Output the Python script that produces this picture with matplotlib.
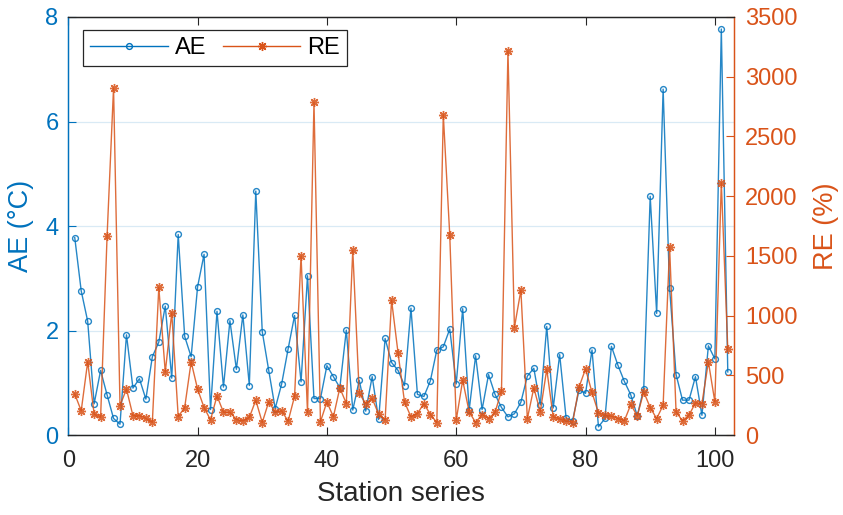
import matplotlib
matplotlib.use("Agg")
import matplotlib.pyplot as plt
import numpy as np

plt.rcParams['font.family'] = ['Liberation Sans', 'DejaVu Sans']

stations = list(range(1, 103))
AE = [3.78, 2.76, 2.18, 0.60, 1.24, 0.77, 0.32, 0.21, 1.92, 0.90,
      1.08, 0.69, 1.50, 1.78, 2.47, 1.09, 3.84, 1.89, 1.50, 2.84,
      3.46, 0.49, 2.37, 0.92, 2.19, 1.26, 2.30, 0.95, 4.67, 1.98,
      1.24, 0.51, 0.98, 1.65, 2.29, 1.02, 3.05, 0.70, 0.70, 1.33,
      1.12, 0.91, 2.01, 0.48, 1.05, 0.46, 1.12, 0.30, 1.85, 1.39,
      1.24, 0.95, 2.43, 0.78, 0.74, 1.04, 1.63, 1.69, 2.03, 0.98,
      2.42, 0.48, 1.52, 0.49, 1.16, 0.78, 0.53, 0.35, 0.41, 0.63,
      1.13, 1.28, 0.58, 2.08, 0.52, 1.54, 0.32, 0.28, 0.87, 0.80,
      1.63, 0.16, 0.32, 1.70, 1.34, 1.03, 0.77, 0.37, 0.89, 4.57,
      2.33, 6.62, 2.81, 1.16, 0.67, 0.67, 1.12, 0.38, 1.71, 1.46,
      7.77, 1.21]
RE = [345, 204, 614, 175, 150, 1665, 2906, 248, 386, 163,
      163, 141, 107, 1238, 527, 1024, 156, 231, 614, 385,
      231, 128, 329, 192, 192, 131, 120, 148, 293, 106,
      279, 195, 204, 117, 326, 1500, 190, 2786, 112, 279,
      153, 396, 265, 1548, 349, 265, 307, 176, 126, 1130,
      689, 279, 153, 181, 265, 173, 106, 2682, 1673, 126,
      460, 195, 106, 173, 139, 190, 371, 3216, 901, 1213,
      139, 396, 195, 552, 153, 134, 120, 106, 404, 554,
      358, 185, 166, 159, 139, 120, 257, 160, 363, 231,
      139, 251, 1576, 195, 120, 167, 271, 265, 614, 279,
      2114, 720]
xticks = [0, 20, 40, 60, 80, 100]
ae_ticks = [0, 2, 4, 6, 8]
re_ticks = [0, 500, 1000, 1500, 2000, 2500, 3000, 3500]

BLUE = '#0072BD'
ORANGE = '#D95319'
DARK = '#262626'

fig = plt.figure(figsize=(8.43, 5.15), dpi=100)
ax1 = fig.add_axes([0.081, 0.155, 0.790, 0.812])
ax2 = ax1.twinx()

l1, = ax1.plot(stations, AE, color=BLUE, lw=1.0, marker='o', ms=4.2,
               mfc='none', mew=1.0, label='AE', alpha=0.85)
l2, = ax2.plot(stations, RE, color=ORANGE, lw=1.0, marker=(8, 2, 0), ms=6.5,
               mew=1.0, label='RE', alpha=0.85)

ax1.set_xlim(0, 103)
ax1.set_ylim(0, 8)
ax2.set_ylim(0, 3500)
ax1.set_xticks(xticks)
ax1.set_yticks(ae_ticks)
ax2.set_yticks(re_ticks)

ax1.yaxis.grid(True, color=BLUE, alpha=0.15, lw=0.9)
ax1.set_axisbelow(True)

ax1.tick_params(axis='x', direction='in', top=True, length=6, width=0.8,
                labelsize=17, colors=DARK, pad=11)
ax1.tick_params(axis='y', direction='in', length=6, width=0.8,
                labelsize=17, colors=BLUE, pad=7)
ax2.tick_params(axis='y', direction='in', length=6, width=0.8,
                labelsize=17, colors=ORANGE, pad=8)

for ax in (ax1, ax2):
    ax.spines['top'].set_color(DARK)
    ax.spines['bottom'].set_color(DARK)
    ax.spines['left'].set_color(BLUE)
    ax.spines['right'].set_color(ORANGE)
    for s in ax.spines.values():
        s.set_linewidth(0.9)

ax1.set_xlabel('Station series', fontsize=20, color=DARK, labelpad=6.5)
ax1.set_ylabel('AE (°C)', fontsize=19.5, color=BLUE, labelpad=8)
ax2.set_ylabel('RE (%)', fontsize=19.5, color=ORANGE, labelpad=11)

leg = ax2.legend([l1, l2], ['AE', 'RE'], loc='upper left',
                 bbox_to_anchor=(0.022, 0.969), borderaxespad=0, ncol=2,
                 fontsize=17, frameon=True, fancybox=False, framealpha=1,
                 edgecolor=DARK, handlelength=3.3, handletextpad=0.3,
                 columnspacing=0.68, borderpad=0.3, numpoints=1)
leg.get_frame().set_linewidth(0.9)
for h in leg.legend_handles:
    h.set_alpha(1)

fig.savefig('out.png', dpi=100)
